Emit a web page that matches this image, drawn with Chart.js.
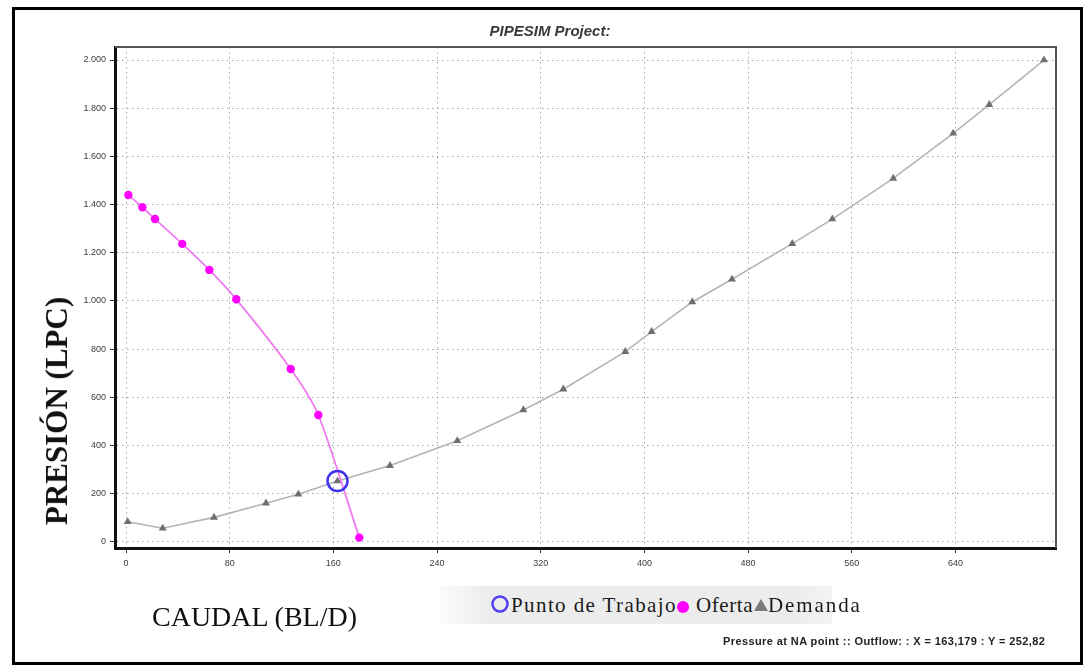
<!DOCTYPE html>
<html>
<head>
<meta charset="utf-8">
<title>PIPESIM Project</title>
<script src="https://cdn.jsdelivr.net/npm/chart.js@4.4.1/dist/chart.umd.min.js"></script>
<style>
  html, body { margin: 0; padding: 0; background: #fff; }
  #wrap { position: relative; width: 1090px; height: 671px; overflow: hidden; background: #fff; }
  #chart { position: absolute; left: 0; top: 0; }
  .frame { position: absolute; left: 12px; top: 7px; width: 1065px; height: 652px; border: 3px solid #000; pointer-events: none; }
  .txt { position: absolute; white-space: nowrap; line-height: 1; }
  #title { left: 550px; top: 30px; transform: translate(-50%, -50%); font: italic bold 15px "Liberation Sans", Arial, sans-serif; color: #3a3a3a; }
  #ytitle { left: 57px; top: 411px; transform: translate(-50%, -50%) rotate(-90deg); font: bold 31px "Liberation Serif", "Times New Roman", serif; color: #111; }
  #xtitle { left: 152px; top: 617px; transform: translateY(-50%); font: 28px "Liberation Serif", "Times New Roman", serif; color: #111; }
  #legendBox { position: absolute; left: 440px; top: 586px; width: 392px; height: 38px;
    background: linear-gradient(to right, #fbfbfb 0%, #ececec 12%, #ececec 90%, #f3f3f3 100%); }
  .lg { position: absolute; top: 605px; transform: translateY(-50%); font: 21px "Liberation Serif", "Times New Roman", serif; color: #1a1a1a; letter-spacing: 0.6px; white-space: nowrap; line-height: 1; }
  .sym { position: absolute; }
  #footer { left: 723px; top: 641px; transform: translateY(-50%); font: bold 11px "Liberation Sans", Arial, sans-serif; letter-spacing: 0.4px; color: #222; }
</style>
</head>
<body>
<div id="wrap">
  <canvas id="chart" width="1090" height="671"></canvas>
  <div class="txt" id="title">PIPESIM Project:</div>
  <div class="txt" id="ytitle">PRESIÓN (LPC)</div>
  <div class="txt" id="xtitle">CAUDAL (BL/D)</div>
  <div id="legendBox"></div>
  <svg class="sym" style="left:490px;top:594px" width="20" height="20"><circle cx="10" cy="10" r="7.5" fill="none" stroke="#4f3ff0" stroke-width="2.5"/></svg>
  <div class="lg" style="left:511px;letter-spacing:1.4px">Punto de Trabajo</div>
  <svg class="sym" style="left:676px;top:600px" width="14" height="14"><circle cx="7" cy="7" r="6" fill="#ff00ff"/></svg>
  <div class="lg" style="left:696px">Oferta</div>
  <svg class="sym" style="left:753px;top:597px" width="16" height="16"><path d="M8 2 L15 14 L1 14 Z" fill="#7a7a7a"/></svg>
  <div class="lg" style="left:768px;letter-spacing:1.9px">Demanda</div>
  <div class="txt" id="footer">Pressure at NA point :: Outflow: : X = 163,179 : Y = 252,82</div>
  <div class="frame"></div>
</div>
<script>
// Inflow (oferta) curve: rate in BL/D, pressure in LPC
const ofertaQ = [1.8, 12.6, 22.4, 43.4, 64.3, 85.1, 127.1, 148.4, 180.0];
const ofertaP = [1440, 1389, 1340, 1237, 1129, 1007, 718, 527, 18];

// Outflow (demanda) curve
const demandaQ = [1.3, 28.3, 67.9, 108, 133, 163.179, 203.7, 255.6, 306.6, 337.4, 385.3, 405.6, 436.9, 467.6, 514.1, 545, 592, 638.3, 666.1, 708.3];
const demandaP = [84, 57, 102, 161, 198, 252.82, 317, 420, 548, 634, 790, 873, 996, 1090, 1238, 1340, 1509, 1696, 1815, 2000];

// Operating point (intersection of both curves)
const puntoQ = [163.179];
const puntoP = [252.82];

// Axis ticks and ranges
const xTicks = [0, 80, 160, 240, 320, 400, 480, 560, 640];
const yTicks = [0, 200, 400, 600, 800, 1000, 1200, 1400, 1600, 1800, 2000];
const xRange = [-8.5, 717.6];
const yRange = [-25, 2054];

const toXY = (xs, ys) => xs.map((x, i) => ({ x: x, y: ys[i] }));
const fmtThousands = v => String(v).replace(/\B(?=(\d{3})+(?!\d))/g, '.');

// Thin frame on top and right of the plot area
const plotFrame = {
  id: 'plotFrame',
  beforeDatasetsDraw(chart) {
    const { ctx, chartArea: a } = chart;
    ctx.save();
    ctx.strokeStyle = '#555';
    ctx.lineWidth = 2;
    ctx.beginPath();
    ctx.moveTo(a.left, a.top);
    ctx.lineTo(a.right, a.top);
    ctx.lineTo(a.right, a.bottom);
    ctx.stroke();
    ctx.restore();
  }
};

const tickFont = { family: '"Liberation Sans", Arial, sans-serif', size: 9 };
const gridOpts = { color: '#a9a9a9', lineWidth: 1, drawTicks: true, tickLength: 5, tickColor: '#333', tickWidth: 1 };
const borderOpts = { display: true, color: '#111', width: 3, dash: [1.5, 3.5] };

new Chart(document.getElementById('chart'), {
  type: 'scatter',
  data: {
    datasets: [
      {
        label: 'Punto de Trabajo',
        data: toXY(puntoQ, puntoP),
        order: 0,
        showLine: false,
        pointStyle: 'circle',
        pointRadius: 10,
        pointBorderWidth: 2.5,
        pointBorderColor: '#3f33ee',
        pointBackgroundColor: 'rgba(0,0,0,0)'
      },
      {
        label: 'Oferta',
        data: toXY(ofertaQ, ofertaP),
        order: 1,
        showLine: true,
        tension: 0.25,
        borderColor: '#f07af0',
        borderWidth: 1.8,
        pointStyle: 'circle',
        pointRadius: 4.2,
        pointBorderWidth: 0,
        pointBackgroundColor: '#ff00ff'
      },
      {
        label: 'Demanda',
        data: toXY(demandaQ, demandaP),
        order: 2,
        showLine: true,
        tension: 0,
        borderColor: '#b4b4b4',
        borderWidth: 1.6,
        pointStyle: 'triangle',
        pointRadius: 4.6,
        pointBorderWidth: 0,
        pointBackgroundColor: '#6f6f6f'
      }
    ]
  },
  options: {
    responsive: false,
    animation: false,
    events: [],
    layout: { padding: { left: 0, top: 47, right: 34, bottom: 0 } },
    plugins: { legend: { display: false }, tooltip: { enabled: false }, title: { display: false } },
    scales: {
      x: {
        type: 'linear',
        min: xRange[0],
        max: xRange[1],
        afterFit(scale) { scale.height = 123; },
        afterBuildTicks(scale) { scale.ticks = xTicks.map(v => ({ value: v })); },
        ticks: { autoSkip: false, maxRotation: 0, padding: 5, color: '#3c3c3c', font: tickFont },
        grid: gridOpts,
        border: borderOpts
      },
      y: {
        type: 'linear',
        min: yRange[0],
        max: yRange[1],
        afterFit(scale) { scale.width = 115; },
        afterBuildTicks(scale) { scale.ticks = yTicks.map(v => ({ value: v })); },
        ticks: { autoSkip: false, padding: 4, color: '#3c3c3c', font: tickFont, callback: v => fmtThousands(v) },
        grid: gridOpts,
        border: borderOpts
      }
    }
  },
  plugins: [plotFrame]
});
</script>
</body>
</html>
